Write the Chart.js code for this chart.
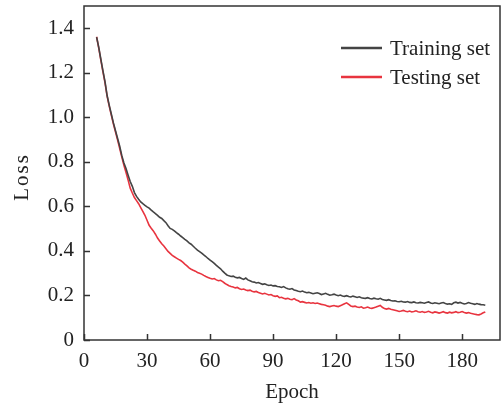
<!DOCTYPE html>
<html>
<head>
<meta charset="utf-8">
<script src="https://cdn.jsdelivr.net/npm/chart.js@4.4.0/dist/chart.umd.min.js"></script>
<style>
html,body{margin:0;padding:0;background:#fff;}
#wrap{width:503px;height:405px;}
</style>
</head>
<body>
<div id="wrap"><canvas id="c" width="503" height="405"></canvas></div>
<script>
// ---- data ----
const firstEpoch = 6;
const seriesNames = ["Training set", "Testing set"];
const xTitle = "Epoch";
const yTitle = "Loss";
const xTicks = [0, 30, 60, 90, 120, 150, 180];
const yTicks = [0, 0.2, 0.4, 0.6, 0.8, 1.0, 1.2, 1.4];
const trainingLoss = [
1.360,1.315,1.262,1.210,1.160,1.098,1.055,1.015,0.975,0.940,
0.905,0.870,0.828,0.795,0.770,0.740,0.712,0.690,0.662,0.645,
0.632,0.620,0.612,0.605,0.598,0.592,0.583,0.575,0.568,0.560,
0.551,0.546,0.536,0.527,0.513,0.501,0.497,0.490,0.482,0.475,
0.467,0.460,0.452,0.445,0.436,0.430,0.421,0.412,0.404,0.397,
0.390,0.382,0.375,0.366,0.359,0.352,0.344,0.335,0.327,0.320,
0.309,0.300,0.292,0.288,0.285,0.287,0.282,0.279,0.281,0.276,
0.272,0.278,0.270,0.266,0.262,0.260,0.256,0.258,0.254,0.250,
0.252,0.248,0.245,0.247,0.243,0.244,0.240,0.239,0.236,0.240,
0.234,0.230,0.228,0.231,0.225,0.222,0.219,0.217,0.220,0.215,
0.212,0.214,0.211,0.208,0.210,0.212,0.209,0.204,0.207,0.210,
0.205,0.201,0.203,0.206,0.202,0.199,0.202,0.198,0.196,0.199,
0.195,0.193,0.197,0.194,0.191,0.194,0.190,0.188,0.187,0.190,
0.186,0.184,0.188,0.185,0.183,0.187,0.182,0.180,0.178,0.181,
0.177,0.175,0.176,0.173,0.172,0.174,0.171,0.170,0.173,0.169,
0.168,0.171,0.167,0.166,0.169,0.167,0.165,0.168,0.171,0.166,
0.164,0.167,0.165,0.163,0.166,0.168,0.164,0.161,0.163,0.160,
0.167,0.170,0.166,0.169,0.165,0.162,0.164,0.168,0.165,0.163,
0.160,0.164,0.161,0.159,0.158,0.156
];
const testingLoss = [
1.362,1.312,1.258,1.205,1.155,1.095,1.050,1.010,0.970,0.934,
0.898,0.860,0.822,0.785,0.752,0.718,0.682,0.660,0.640,0.626,
0.612,0.595,0.578,0.560,0.538,0.515,0.502,0.490,0.475,0.458,
0.445,0.432,0.422,0.410,0.398,0.389,0.380,0.374,0.368,0.362,
0.357,0.350,0.341,0.333,0.324,0.318,0.313,0.309,0.303,0.300,
0.296,0.290,0.285,0.281,0.277,0.274,0.276,0.270,0.266,0.268,
0.262,0.255,0.249,0.244,0.240,0.238,0.234,0.236,0.230,0.227,
0.229,0.225,0.222,0.224,0.219,0.216,0.218,0.213,0.210,0.207,
0.210,0.206,0.202,0.204,0.199,0.196,0.198,0.190,0.192,0.188,
0.185,0.187,0.183,0.181,0.186,0.180,0.176,0.170,0.172,0.169,
0.166,0.168,0.165,0.167,0.164,0.166,0.163,0.160,0.158,0.156,
0.152,0.150,0.153,0.155,0.152,0.150,0.154,0.158,0.163,0.167,
0.160,0.153,0.150,0.152,0.148,0.146,0.149,0.143,0.145,0.148,
0.144,0.142,0.145,0.148,0.152,0.155,0.147,0.141,0.139,0.142,
0.138,0.136,0.134,0.131,0.128,0.130,0.133,0.129,0.127,0.130,
0.126,0.128,0.131,0.127,0.125,0.128,0.124,0.126,0.129,0.125,
0.122,0.126,0.124,0.121,0.124,0.127,0.123,0.121,0.125,0.122,
0.124,0.127,0.123,0.125,0.128,0.124,0.121,0.123,0.120,0.118,
0.116,0.114,0.113,0.117,0.122,0.126
];
const seriesColors = ["#444444", "#e8343f"];

// ---- chart ----
const FONT = "'Liberation Serif', 'Times New Roman', serif";
const FS = 21;
const toPoints = arr => arr.map((v, i) => ({x: firstEpoch + i, y: v}));

const framePlugin = {
  id: 'frame',
  afterDraw(chart) {
    const ctx = chart.ctx, a = chart.chartArea;
    const xs = chart.scales.x, ys = chart.scales.y;
    ctx.save();
    ctx.strokeStyle = '#333';
    ctx.lineWidth = 1.5;
    ctx.strokeRect(a.left, a.top, a.right - a.left, a.bottom - a.top);
    ctx.beginPath();
    xTicks.forEach(t => {
      const px = Math.round(xs.getPixelForValue(t)) + 0.5;
      ctx.moveTo(px, a.bottom); ctx.lineTo(px, a.bottom - 6);
    });
    yTicks.forEach(t => {
      const py = Math.round(ys.getPixelForValue(t)) + 0.5;
      ctx.moveTo(a.left, py); ctx.lineTo(a.left + 6, py);
    });
    ctx.stroke();
    // y title
    ctx.font = FS + "px " + FONT;
    ctx.fillStyle = '#222';
    ctx.save();
    ctx.translate(22, 177);
    ctx.rotate(-Math.PI / 2);
    ctx.textAlign = 'center';
    ctx.textBaseline = 'middle';
    if ('letterSpacing' in ctx) ctx.letterSpacing = '2px';
    ctx.fillText(yTitle, 0, 0);
    ctx.restore();
    // legend
    ctx.textBaseline = 'middle';
    ctx.textAlign = 'left';
    chart.data.datasets.forEach((ds, i) => {
      const y = 48 + i * 29;
      ctx.strokeStyle = ds.borderColor;
      ctx.lineWidth = 2.5;
      ctx.beginPath();
      ctx.moveTo(341, y); ctx.lineTo(382, y);
      ctx.stroke();
      ctx.fillStyle = '#222';
      ctx.fillText(ds.label, 390, y + 1);
    });
    ctx.restore();
  }
};

new Chart(document.getElementById('c'), {
  type: 'line',
  data: {
    datasets: [
      {label: seriesNames[0], data: toPoints(trainingLoss), borderColor: seriesColors[0], borderWidth: 1.6, pointRadius: 0, tension: 0, fill: false},
      {label: seriesNames[1], data: toPoints(testingLoss), borderColor: seriesColors[1], borderWidth: 1.6, pointRadius: 0, tension: 0, fill: false}
    ]
  },
  options: {
    responsive: false,
    animation: false,
    layout: {padding: {top: 6, right: 3, left: 0, bottom: 0}},
    plugins: {legend: {display: false}, tooltip: {enabled: false}},
    scales: {
      x: {
        type: 'linear', min: 0, max: 198,
        grid: {display: false, drawTicks: false},
        border: {display: false},
        afterBuildTicks: s => { s.ticks = xTicks.map(v => ({value: v})); },
        afterFit: s => { s.height = 65; s.paddingLeft = 0; s.paddingRight = 0; },
        ticks: {font: {family: FONT, size: FS}, color: '#222', padding: 9, maxRotation: 0,
          callback: v => String(v)},
        title: {display: true, text: xTitle, font: {family: FONT, size: FS}, color: '#222', padding: {top: 5, bottom: 0}}
      },
      y: {
        type: 'linear', min: 0, max: 1.5,
        grid: {display: false, drawTicks: false},
        border: {display: false},
        afterBuildTicks: s => { s.ticks = yTicks.map(v => ({value: v})); },
        afterFit: s => { s.width = 84; s.paddingTop = 0; s.paddingBottom = 0; },
        ticks: {font: {family: FONT, size: FS}, color: '#222', padding: 10,
          callback: v => v === 0 ? '0' : v.toFixed(1)},
        title: {display: false}
      }
    }
  },
  plugins: [framePlugin]
});
</script>
</body>
</html>
